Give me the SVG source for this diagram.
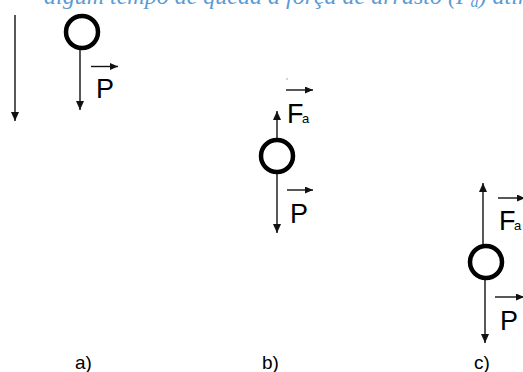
<svg xmlns="http://www.w3.org/2000/svg" width="523" height="372" viewBox="0 0 523 372">
<style>
.ln{stroke:#111;stroke-width:1.4;fill:none}
.ball{fill:none;stroke:#000;stroke-width:4.5}
.lbl{font-family:"Liberation Sans",Arial,sans-serif;font-size:27px;fill:#000}
.sub{font-family:"Liberation Sans",Arial,sans-serif;font-size:13px;fill:#000}
.cap{font-family:"Liberation Sans",Arial,sans-serif;font-size:19px;fill:#000}
.head{font-family:"Liberation Serif","Times New Roman",serif;font-style:italic;font-size:24px;fill:#5B9BD5}
</style>
<defs>
<marker id="ah" markerWidth="10" markerHeight="10" refX="9" refY="4" orient="auto" markerUnits="userSpaceOnUse">
<path d="M0,0 L9,4 L0,8 Z" fill="#111"/>
</marker>
<marker id="vh" markerWidth="10" markerHeight="10" refX="8" refY="3.5" orient="auto" markerUnits="userSpaceOnUse">
<path d="M0,0 L8,3.5 L0,7 Z" fill="#111"/>
</marker>
</defs>
<text class="head" x="44" y="4">algum tempo de queda a força de arrasto (F<tspan font-size="16" dy="3">a</tspan><tspan dy="-3">) atinge</tspan></text>
<g id="connectors">
<line class="ln" x1="15" y1="15" x2="15" y2="121" marker-end="url(#ah)"/>
<line class="ln" x1="80" y1="50" x2="80" y2="110" marker-end="url(#ah)"/>
<line class="ln" x1="277" y1="139" x2="277" y2="111" marker-end="url(#ah)"/>
<line class="ln" x1="277" y1="174" x2="277" y2="233" marker-end="url(#ah)"/>
<line class="ln" x1="483" y1="245" x2="483" y2="183" marker-end="url(#ah)"/>
<line class="ln" x1="485" y1="280" x2="485" y2="343" marker-end="url(#ah)"/>
</g>
<g id="panel-a">
<circle class="ball" cx="82" cy="32" r="16"/>
<line class="ln" x1="91" y1="66.5" x2="118" y2="66.5" marker-end="url(#vh)"/>
<text class="lbl" x="96" y="98">P</text>
<text class="cap" x="75" y="369">a)</text>
</g>
<g id="panel-b">
<circle cx="287" cy="79" r="0.7" fill="#888"/>
<line class="ln" x1="286" y1="90" x2="313" y2="90" marker-end="url(#vh)"/>
<text class="lbl" x="287" y="123">F</text>
<text class="sub" x="302" y="123">a</text>
<circle class="ball" cx="277" cy="156" r="16"/>
<line class="ln" x1="287" y1="190" x2="313" y2="190" marker-end="url(#vh)"/>
<text class="lbl" x="290" y="223">P</text>
<text class="cap" x="262" y="369">b)</text>
</g>
<g id="panel-c">
<circle class="ball" cx="486" cy="262" r="16"/>
<line class="ln" x1="498" y1="198" x2="525" y2="198" marker-end="url(#vh)"/>
<text class="lbl" x="499" y="230">F</text>
<text class="sub" x="514" y="230">a</text>
<line class="ln" x1="495" y1="297" x2="524" y2="297" marker-end="url(#vh)"/>
<text class="lbl" x="500" y="330">P</text>
<text class="cap" x="474" y="369">c)</text>
</g>
</svg>
